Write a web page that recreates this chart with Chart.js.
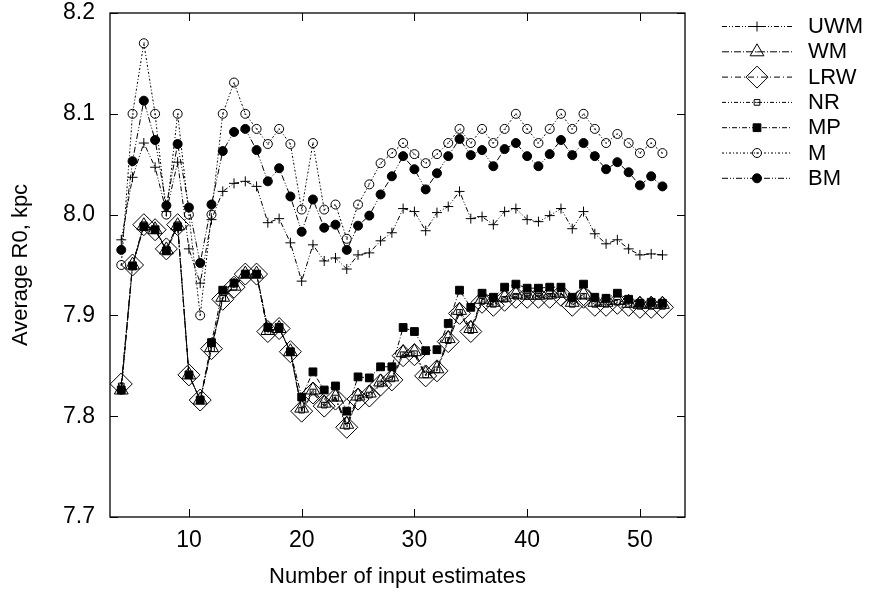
<!DOCTYPE html>
<html>
<head>
<meta charset="utf-8">
<script src="https://cdn.jsdelivr.net/npm/chart.js@4/dist/chart.umd.min.js"></script>
<style>
  body { margin: 0; background: #fff; }
</style>
</head>
<body>
<canvas id="chartR0" width="873" height="594"></canvas>
<script>
// number of input estimates (x)
const nValues = [4, 5, 6, 7, 8, 9, 10, 11, 12, 13, 14, 15, 16, 17, 18, 19, 20,
  21, 22, 23, 24, 25, 26, 27, 28, 29, 30, 31, 32, 33, 34, 35, 36, 37,
  38, 39, 40, 41, 42, 43, 44, 45, 46, 47, 48, 49, 50, 51, 52];

const uwm = [7.975, 8.037, 8.071, 8.047, 8.003, 8.052, 7.966, 7.932, 7.995, 8.023, 8.031, 8.033, 8.028, 7.992, 7.996, 7.972, 7.934,
  7.970, 7.954, 7.957, 7.946, 7.960, 7.962, 7.974, 7.982, 8.006, 8.003, 7.984, 8.002, 8.008, 8.023, 7.996, 7.998, 7.990,
  8.003, 8.006, 7.995, 7.993, 7.999, 8.006, 7.986, 8.003, 7.981, 7.971, 7.975, 7.966, 7.960, 7.961, 7.960];
const wm = [7.826, 7.950, 7.989, 7.985, 7.965, 7.989, 7.841, 7.816, 7.868, 7.918, 7.929, 7.941, 7.941, 7.885, 7.887, 7.864, 7.808,
  7.826, 7.813, 7.819, 7.792, 7.820, 7.823, 7.834, 7.839, 7.863, 7.864, 7.842, 7.847, 7.877, 7.905, 7.887, 7.916, 7.913,
  7.918, 7.921, 7.920, 7.920, 7.921, 7.922, 7.913, 7.921, 7.913, 7.913, 7.915, 7.912, 7.911, 7.911, 7.911];
const lrw = [7.832, 7.950, 7.990, 7.985, 7.966, 7.990, 7.841, 7.816, 7.867, 7.916, 7.928, 7.941, 7.941, 7.884, 7.887, 7.864, 7.805,
  7.823, 7.810, 7.817, 7.789, 7.817, 7.820, 7.831, 7.836, 7.860, 7.861, 7.840, 7.845, 7.874, 7.902, 7.884, 7.913, 7.910,
  7.915, 7.918, 7.918, 7.918, 7.918, 7.920, 7.910, 7.918, 7.910, 7.910, 7.912, 7.910, 7.908, 7.908, 7.908];
const nr = [7.830, 7.950, 7.990, 7.985, 7.966, 7.990, 7.841, 7.816, 7.867, 7.917, 7.928, 7.941, 7.941, 7.884, 7.887, 7.864, 7.806,
  7.824, 7.811, 7.818, 7.790, 7.818, 7.821, 7.832, 7.837, 7.861, 7.862, 7.841, 7.846, 7.875, 7.903, 7.885, 7.914, 7.911,
  7.916, 7.919, 7.919, 7.919, 7.919, 7.921, 7.911, 7.919, 7.911, 7.911, 7.913, 7.911, 7.909, 7.909, 7.909];
const mp = [7.826, 7.949, 7.988, 7.985, 7.964, 7.988, 7.841, 7.816, 7.873, 7.925, 7.932, 7.941, 7.941, 7.888, 7.888, 7.864, 7.819,
  7.844, 7.826, 7.830, 7.805, 7.839, 7.838, 7.849, 7.849, 7.888, 7.884, 7.865, 7.866, 7.892, 7.925, 7.908, 7.922, 7.918,
  7.928, 7.931, 7.927, 7.927, 7.928, 7.928, 7.918, 7.931, 7.918, 7.917, 7.922, 7.916, 7.912, 7.913, 7.912];
const m = [7.950, 8.100, 8.170, 8.100, 8.000, 8.100, 8.000, 7.900, 8.000, 8.100, 8.131, 8.100, 8.085, 8.070, 8.085, 8.070, 8.005,
  8.071, 8.005, 8.010, 7.976, 8.010, 8.030, 8.051, 8.061, 8.071, 8.060, 8.051, 8.060, 8.071, 8.085, 8.071, 8.085, 8.071,
  8.085, 8.100, 8.085, 8.071, 8.085, 8.100, 8.085, 8.100, 8.085, 8.071, 8.080, 8.071, 8.061, 8.071, 8.061];
const bm = [7.965, 8.053, 8.113, 8.074, 8.009, 8.070, 8.007, 7.952, 8.010, 8.063, 8.082, 8.085, 8.064, 8.033, 8.046, 8.018, 7.983,
  8.015, 7.987, 7.990, 7.965, 7.989, 7.999, 8.020, 8.038, 8.058, 8.045, 8.025, 8.041, 8.058, 8.075, 8.059, 8.064, 8.048,
  8.065, 8.071, 8.058, 8.048, 8.060, 8.074, 8.059, 8.071, 8.058, 8.045, 8.052, 8.042, 8.029, 8.038, 8.028];

const seriesNames = ['UWM', 'WM', 'LRW', 'NR', 'MP', 'M', 'BM'];
const seriesValues = [uwm, wm, lrw, nr, mp, m, bm];

const xTicks = [10, 20, 30, 40, 50];
const yTicks = [7.7, 7.8, 7.9, 8.0, 8.1, 8.2];

// marker / line look for each series (same order as seriesNames)
const looks = [
  { style: 'cross',    r: 5,   fill: false, dot: false, dash: [5, 2, 1, 2, 1, 2] },
  { style: 'triangle', r: 8,   fill: false, dot: true,  dash: [7, 2, 1, 2] },
  { style: 'rectRot',  r: 11,  fill: false, dot: false, dash: [6, 3, 1, 3] },
  { style: 'rect',     r: 4,   fill: false, dot: true,  dash: [4, 2, 1, 2, 1, 2] },
  { style: 'rect',     r: 5.5, fill: true,  dot: false, dash: [5, 2, 1, 2] },
  { style: 'circle',   r: 4.5, fill: false, dot: true,  dash: [2, 2, 1, 2] },
  { style: 'circle',   r: 4.5, fill: true,  dot: false, dash: [6, 2, 1, 2, 1, 2] }
];

const FONT = { family: "'Liberation Sans', Arial, sans-serif", size: 22 };
const TICK_FONT = { family: "'Liberation Sans', Arial, sans-serif", size: 23 };

const datasets = seriesNames.map((name, i) => ({
  label: name,
  data: nValues.map((n, k) => ({ x: n, y: seriesValues[i][k] })),
  borderColor: '#000',
  borderWidth: 1,
  borderDash: looks[i].dash,
  pointStyle: looks[i].style,
  pointRadius: looks[i].r,
  pointBorderWidth: 1,
  pointBorderColor: '#000',
  pointBackgroundColor: looks[i].fill ? '#000' : 'rgba(0,0,0,0)',
  fill: false,
  tension: 0
}));

// small centre dot inside the open markers (gnuplot style)
const dotPlugin = {
  id: 'dots',
  afterDatasetsDraw(chart) {
    const ctx = chart.ctx;
    ctx.save();
    ctx.fillStyle = '#000';
    chart.data.datasets.forEach((ds, i) => {
      if (!looks[i].dot) return;
      chart.getDatasetMeta(i).data.forEach(pt => {
        ctx.fillRect(Math.round(pt.x) - 0.5, Math.round(pt.y) - 0.5, 1.2, 1.2);
      });
    });
    ctx.restore();
  }
};

// frame with inward ticks on all four sides, like the original plot
const framePlugin = {
  id: 'frame',
  afterDraw(chart) {
    const { ctx, chartArea: a, scales } = chart;
    ctx.save();
    ctx.strokeStyle = '#000';
    ctx.lineWidth = 1.3;
    ctx.setLineDash([]);
    ctx.strokeRect(a.left, a.top, a.right - a.left, a.bottom - a.top);
    ctx.lineWidth = 1;
    ctx.beginPath();
    xTicks.forEach(v => {
      const px = Math.round(scales.x.getPixelForValue(v)) + 0.5;
      ctx.moveTo(px, a.bottom); ctx.lineTo(px, a.bottom - 8);
      ctx.moveTo(px, a.top); ctx.lineTo(px, a.top + 8);
    });
    yTicks.forEach(v => {
      const py = Math.round(scales.y.getPixelForValue(v)) + 0.5;
      ctx.moveTo(a.left, py); ctx.lineTo(a.left + 8, py);
      ctx.moveTo(a.right, py); ctx.lineTo(a.right - 8, py);
    });
    ctx.stroke();
    ctx.restore();
  }
};

// legend on the right: line sample + marker + name
const keyPlugin = {
  id: 'key',
  afterDraw(chart) {
    const ctx = chart.ctx;
    ctx.save();
    chart.data.datasets.forEach((ds, i) => {
      const y = 26 + i * 25.3;
      ctx.strokeStyle = '#000';
      ctx.lineWidth = 1;
      ctx.setLineDash(ds.borderDash);
      ctx.beginPath();
      ctx.moveTo(722, y + 0.5);
      ctx.lineTo(792, y + 0.5);
      ctx.stroke();
      ctx.setLineDash([]);
      ctx.fillStyle = ds.pointBackgroundColor;
      Chart.helpers.drawPoint(ctx, {
        pointStyle: ds.pointStyle,
        radius: ds.pointRadius,
        rotation: 0,
        borderWidth: 1
      }, 757, y + 0.5);
      ctx.fillStyle = '#000';
      if (looks[i].dot) ctx.fillRect(756.5, y, 1.2, 1.2);
      ctx.font = FONT.size + 'px ' + FONT.family;
      ctx.textAlign = 'left';
      ctx.textBaseline = 'middle';
      ctx.fillText(ds.label, 808, y + 1);
    });
    ctx.restore();
  }
};

new Chart(document.getElementById('chartR0'), {
  type: 'line',
  data: { datasets: datasets },
  options: {
    responsive: false,
    animation: false,
    devicePixelRatio: 1,
    layout: { padding: { top: 13, right: 188, left: 0, bottom: 0 } },
    plugins: { legend: { display: false }, tooltip: { enabled: false } },
    scales: {
      x: {
        type: 'linear',
        min: 3,
        max: 54,
        afterBuildTicks: s => { s.ticks = xTicks.map(v => ({ value: v })); },
        afterFit: s => { s.height = 77; s.paddingLeft = 0; s.paddingRight = 0; },
        grid: { display: false, drawTicks: false },
        border: { display: false },
        ticks: { color: '#000', font: TICK_FONT, padding: 10, maxRotation: 0 },
        title: { display: true, text: 'Number of input estimates', color: '#000', font: FONT, padding: { top: 0, bottom: 4 } }
      },
      y: {
        min: 7.7,
        max: 8.2,
        afterBuildTicks: s => { s.ticks = yTicks.map(v => ({ value: v })); },
        afterFit: s => { s.width = 110; s.paddingTop = 0; s.paddingBottom = 0; },
        grid: { display: false, drawTicks: false },
        border: { display: false },
        ticks: { color: '#000', font: TICK_FONT, padding: 15, callback: v => v.toFixed(1) },
        title: { display: true, text: 'Average R0, kpc', color: '#000', font: FONT, padding: { top: 8, bottom: 0 } }
      }
    }
  },
  plugins: [dotPlugin, framePlugin, keyPlugin]
});
</script>
</body>
</html>
